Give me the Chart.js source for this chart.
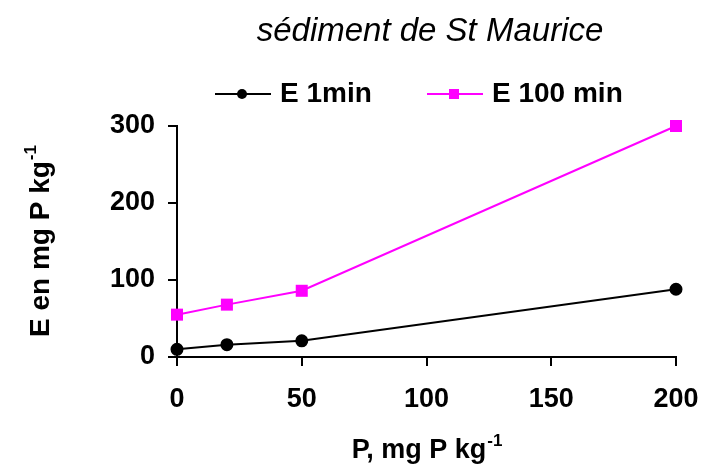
<!DOCTYPE html>
<html>
<head>
<meta charset="utf-8">
<script src="https://cdn.jsdelivr.net/npm/chart.js@4/dist/chart.umd.min.js"></script>
<style>
  html, body { margin: 0; padding: 0; background: #fff; }
  #wrap { width: 701px; height: 466px; }
</style>
</head>
<body>
<div id="wrap"><canvas id="c" width="701" height="466"></canvas></div>
<script>
// P added (mg P/kg) and exchangeable P after 1 min and 100 min
const phosphore = [0, 20, 50, 200];
const e1min = [10, 16, 21, 88];
const e100min = [55, 68, 86, 300];

const xTicks = [0, 50, 100, 150, 200];
const yTicks = [0, 100, 200, 300];

const titre = 'sédiment de St Maurice';
const titreX = ['P, mg P kg', '-1'];
const titreY = ['E en mg P kg', '-1'];

const FONT = "'Liberation Sans', Arial, sans-serif";

// Title, legend (line + marker) and axis titles with superscripts
const decor = {
  id: 'decor',
  afterDraw(chart) {
    const ctx = chart.ctx;
    const area = chart.chartArea;
    ctx.save();
    ctx.fillStyle = '#000';

    // title
    ctx.font = 'italic 33px ' + FONT;
    ctx.textAlign = 'center';
    ctx.textBaseline = 'middle';
    ctx.fillText(titre, 430, 32);

    // legend
    const legendX = [215, 427];
    const legendY = 94;
    ctx.font = 'bold 28px ' + FONT;
    ctx.textAlign = 'left';
    chart.data.datasets.forEach((ds, i) => {
      const x0 = legendX[i];
      ctx.strokeStyle = ds.borderColor;
      ctx.lineWidth = 2;
      ctx.beginPath();
      ctx.moveTo(x0, legendY);
      ctx.lineTo(x0 + 56, legendY);
      ctx.stroke();
      ctx.fillStyle = ds.pointBackgroundColor;
      const cx = x0 + 27;
      if (ds.pointStyle === 'rect') {
        ctx.fillRect(cx - 5, legendY - 5, 10, 10);
      } else {
        ctx.beginPath();
        ctx.arc(cx, legendY, 5, 0, Math.PI * 2);
        ctx.fill();
      }
      ctx.fillStyle = '#000';
      ctx.fillText(ds.label, x0 + 65, legendY);
    });

    // x axis title
    ctx.textBaseline = 'alphabetic';
    ctx.font = 'bold 27px ' + FONT;
    const wx = ctx.measureText(titreX[0]).width;
    ctx.font = 'bold 17px ' + FONT;
    const wxs = ctx.measureText(titreX[1]).width;
    const cxT = (area.left + area.right) / 2;
    let sx = cxT - (wx + wxs) / 2;
    ctx.font = 'bold 27px ' + FONT;
    ctx.fillText(titreX[0], sx, 458);
    ctx.font = 'bold 17px ' + FONT;
    ctx.fillText(titreX[1], sx + wx + 1, 446);

    // y axis title (rotated)
    ctx.translate(49, (area.top + area.bottom) / 2);
    ctx.rotate(-Math.PI / 2);
    ctx.font = 'bold 28px ' + FONT;
    const wy = ctx.measureText(titreY[0]).width;
    ctx.font = 'bold 17px ' + FONT;
    const wys = ctx.measureText(titreY[1]).width;
    const sy = -(wy + wys) / 2;
    ctx.font = 'bold 28px ' + FONT;
    ctx.fillText(titreY[0], sy, 0);
    ctx.font = 'bold 17px ' + FONT;
    ctx.fillText(titreY[1], sy + wy + 1, -13);
    ctx.restore();
  }
};

const axisStyle = {
  border: { display: true, color: '#000', width: 2 },
  grid: { drawOnChartArea: false, drawTicks: true, tickLength: 9, color: '#000', lineWidth: 2 },
};

new Chart(document.getElementById('c'), {
  type: 'line',
  data: {
    datasets: [
      {
        label: 'E 1min',
        data: phosphore.map((p, i) => ({ x: p, y: e1min[i] })),
        borderColor: '#000000',
        backgroundColor: '#000000',
        pointBackgroundColor: '#000000',
        pointBorderColor: '#000000',
        pointStyle: 'circle',
        pointRadius: 5.5,
        borderWidth: 2,
        clip: false,
        tension: 0
      },
      {
        label: 'E 100 min',
        data: phosphore.map((p, i) => ({ x: p, y: e100min[i] })),
        borderColor: '#FF00FF',
        backgroundColor: '#FF00FF',
        pointBackgroundColor: '#FF00FF',
        pointBorderColor: '#FF00FF',
        pointStyle: 'rect',
        pointRadius: 8.5,
        pointBorderWidth: 0,
        borderWidth: 2,
        clip: false,
        tension: 0
      }
    ]
  },
  options: {
    responsive: false,
    animation: false,
    devicePixelRatio: 1,
    layout: { padding: { top: 126, right: 25, left: 0, bottom: 0 } },
    plugins: {
      legend: { display: false },
      title: { display: false },
      tooltip: { enabled: false }
    },
    scales: {
      x: {
        type: 'linear',
        min: 0,
        max: 200,
        afterBuildTicks(scale) { scale.ticks = xTicks.map(v => ({ value: v })); },
        afterFit(scale) {
          scale.height = 109;
          scale.paddingLeft = 0;
          scale.paddingRight = 0;
        },
        ticks: { color: '#000', font: { family: FONT, size: 27, weight: 'bold' }, padding: 17, maxRotation: 0 },
        ...axisStyle
      },
      y: {
        type: 'linear',
        min: 0,
        max: 300,
        afterBuildTicks(scale) { scale.ticks = yTicks.map(v => ({ value: v })); },
        afterFit(scale) { scale.width = 177; },
        ticks: { color: '#000', font: { family: FONT, size: 27, weight: 'bold' }, padding: 13 },
        ...axisStyle
      }
    }
  },
  plugins: [decor]
});
</script>
</body>
</html>
